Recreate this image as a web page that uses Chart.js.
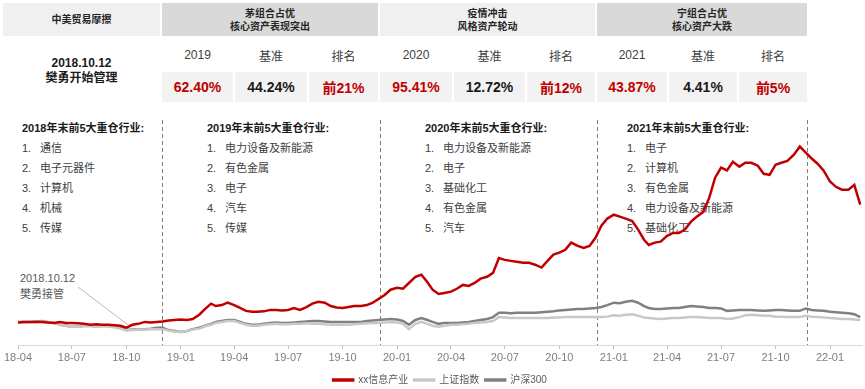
<!DOCTYPE html>
<html>
<head>
<meta charset="utf-8">
<script src="https://cdn.jsdelivr.net/npm/chart.js@4.4.1/dist/chart.umd.min.js"></script>
<style>
  body { margin: 0; width: 865px; height: 389px; background: #fff; position: relative; overflow: hidden;
         font-family: "Liberation Sans", "Noto Sans CJK SC", sans-serif; }
  .cell { position: absolute; display: flex; flex-direction: column; align-items: center; justify-content: center; text-align: center; }
  .txt { position: absolute; white-space: nowrap; }
  #chart { position: absolute; left: 0; top: 110px; z-index: 2; }
</style>
</head>
<body>
<canvas id="chart" width="865" height="285"></canvas>
<script>
// ---- table texts ----
const tradeWarTitle = '中美贸易摩擦';
const managerNote = ['2018.10.12', '樊勇开始管理'];
const periodTitles = [['茅组合占优', '核心资产表现突出'], ['疫情冲击', '风格资产轮动'], ['宁组合占优', '核心资产大跌']];
const periodYears = ['2019', '2020', '2021'];
const fundReturns = ['62.40%', '95.41%', '43.87%'];
const benchReturns = ['44.24%', '12.72%', '4.41%'];
const rankTexts = ['前21%', '前12%', '前5%'];

// ---- holdings lists ----
const listTitles = ['2018年末前5大重仓行业:', '2019年末前5大重仓行业:', '2020年末前5大重仓行业:', '2021年末前5大重仓行业:'];
const listItems = [
  ['通信', '电子元器件', '计算机', '机械', '传媒'],
  ['电力设备及新能源', '有色金属', '电子', '汽车', '传媒'],
  ['电力设备及新能源', '电子', '基础化工', '有色金属', '汽车'],
  ['电子', '计算机', '有色金属', '电力设备及新能源', '基础化工']
];
const takeoverNote = ['2018.10.12', '樊勇接管'];
const takeoverDate = '2018-10-12';
const yearEndMarks = ['2018-11-30', '2019-12-03', '2020-12-03', '2021-11-23'];

// ---- chart data (3 readings per month: day 1, 11, 21; 2018-04 .. 2022-02) ----
const seriesNames = ['xx信息产业', '上证指数', '沪深300'];
const tickLabels = ['18-04', '18-07', '18-10', '19-01', '19-04', '19-07', '19-10', '20-01', '20-04', '20-07', '20-10', '21-01', '21-04', '21-07', '21-10', '22-01'];

const infoIndustry = [
  0.99, 1.00, 1.00, 1.00, 1.00, 0.99, 0.98, 1.00, 0.98, 0.98, 0.97, 0.96, 0.94, 0.95, 0.94, 0.94, 0.93, 0.92, 0.88, 0.94, 0.96, 1.00, 0.99, 1.00, 1.01, 1.03, 1.04,
  1.05, 1.04, 1.06, 1.15, 1.27, 1.38, 1.33, 1.35, 1.40, 1.35, 1.29, 1.23, 1.21, 1.21, 1.22, 1.25, 1.25, 1.24, 1.25, 1.29, 1.25, 1.31, 1.38, 1.42, 1.40, 1.33, 1.30, 1.29, 1.31, 1.33, 1.33, 1.35, 1.40, 1.48, 1.56, 1.67,
  1.71, 1.69, 1.81, 1.94, 1.98, 1.83, 1.67, 1.58, 1.60, 1.63, 1.69, 1.77, 1.75, 1.81, 1.90, 1.94, 2.02, 2.33, 2.29, 2.27, 2.25, 2.23, 2.23, 2.19, 2.13, 2.27, 2.40, 2.44, 2.50, 2.65, 2.58, 2.54, 2.58, 2.75, 3.00, 3.15,
  3.23, 3.19, 3.15, 3.10, 2.92, 2.71, 2.60, 2.65, 2.67, 2.79, 2.85, 2.85, 2.92, 3.08, 3.19, 3.29, 3.58, 4.00, 4.21, 4.15, 4.33, 4.23, 4.31, 4.31, 4.25, 4.08, 4.06, 4.27, 4.31, 4.35, 4.48, 4.65, 4.52, 4.40, 4.29, 4.15,
  3.92, 3.81, 3.75, 3.75, 3.85, 3.44
];
const shIndex = [
  1.00, 1.00, 1.00, 1.00, 1.01, 1.00, 0.98, 0.94, 0.92, 0.90, 0.90, 0.91, 0.91, 0.90, 0.91, 0.90, 0.89, 0.86, 0.82, 0.83, 0.84, 0.84, 0.85, 0.85, 0.85, 0.82, 0.80,
  0.79, 0.81, 0.84, 0.86, 0.91, 0.94, 0.98, 1.00, 1.02, 1.02, 0.98, 0.94, 0.92, 0.92, 0.94, 0.95, 0.96, 0.95, 0.95, 0.96, 0.96, 0.97, 0.96, 0.96, 0.95, 0.94, 0.94, 0.94, 0.94, 0.95, 0.96, 0.97, 0.98, 0.98, 0.99, 1.00,
  0.99, 0.96, 0.85, 0.96, 1.00, 0.96, 0.92, 0.90, 0.92, 0.94, 0.94, 0.95, 0.96, 0.98, 0.99, 1.00, 1.02, 1.10, 1.09, 1.08, 1.08, 1.08, 1.08, 1.08, 1.08, 1.08, 1.09, 1.09, 1.10, 1.10, 1.10, 1.10, 1.10, 1.10, 1.10, 1.11,
  1.14, 1.13, 1.15, 1.16, 1.13, 1.09, 1.08, 1.07, 1.06, 1.07, 1.08, 1.08, 1.09, 1.10, 1.10, 1.09, 1.08, 1.08, 1.08, 1.06, 1.07, 1.10, 1.14, 1.15, 1.14, 1.13, 1.13, 1.11, 1.11, 1.10, 1.10, 1.10, 1.13, 1.11, 1.10, 1.09,
  1.08, 1.07, 1.06, 1.06, 1.05, 1.04
];
const hs300 = [
  1.00, 1.00, 1.00, 1.01, 1.02, 1.00, 0.98, 0.94, 0.92, 0.90, 0.90, 0.92, 0.92, 0.91, 0.92, 0.92, 0.90, 0.88, 0.83, 0.84, 0.85, 0.85, 0.86, 0.88, 0.88, 0.83, 0.81,
  0.79, 0.81, 0.85, 0.88, 0.92, 0.96, 1.00, 1.02, 1.04, 1.04, 1.00, 0.96, 0.94, 0.94, 0.96, 0.98, 0.99, 0.98, 0.98, 0.99, 1.00, 1.01, 1.02, 1.02, 1.01, 1.00, 1.00, 1.00, 1.00, 1.00, 1.00, 1.02, 1.03, 1.04, 1.05, 1.06,
  1.05, 1.02, 0.94, 1.04, 1.08, 1.04, 1.00, 0.96, 0.98, 0.98, 0.98, 0.99, 1.00, 1.02, 1.04, 1.06, 1.10, 1.19, 1.19, 1.18, 1.19, 1.19, 1.19, 1.19, 1.20, 1.21, 1.22, 1.24, 1.25, 1.26, 1.27, 1.27, 1.28, 1.29, 1.31, 1.35,
  1.40, 1.39, 1.42, 1.44, 1.40, 1.33, 1.29, 1.27, 1.27, 1.28, 1.29, 1.29, 1.31, 1.33, 1.32, 1.31, 1.29, 1.29, 1.28, 1.23, 1.24, 1.25, 1.25, 1.25, 1.24, 1.23, 1.24, 1.25, 1.25, 1.24, 1.23, 1.23, 1.28, 1.25, 1.24, 1.23,
  1.21, 1.20, 1.19, 1.18, 1.16, 1.10
];

// reading dates: 1st, 11th, 21st of each month from 2018-04 to 2022-02
const readingDays = [1, 11, 21];
const dates = [];
for (let y = 2018, m = 3; y < 2022 || m < 2; m++) {
  if (m === 12) { m = 0; y++; if (y === 2022 && m >= 2) break; }
  readingDays.forEach(d => dates.push(Date.UTC(y, m, d)));
}

// ---- build the table (HTML) ----
function addCell(x, y, w, h, bg, lines, style) {
  const el = document.createElement('div');
  el.className = 'cell';
  Object.assign(el.style, { left: x + 'px', top: y + 'px', width: w + 'px', height: h + 'px', background: bg }, style || {});
  lines.forEach(t => { const s = document.createElement('div'); s.textContent = t; el.appendChild(s); });
  document.body.appendChild(el);
}
function addText(x, cy, text, style) {
  const el = document.createElement('div');
  el.className = 'txt';
  el.textContent = text;
  Object.assign(el.style, { left: x + 'px', top: (cy - 7) + 'px', height: '14px', lineHeight: '14px' }, style || {});
  document.body.appendChild(el);
}

const headBold = { fontWeight: 'bold', fontSize: '10px', lineHeight: '13px', color: '#262626' };
addCell(3, 3, 157, 33, '#f0f0f0', [tradeWarTitle], headBold);
addCell(3, 40, 157, 62, 'transparent', managerNote, { fontWeight: 'bold', fontSize: '12px', lineHeight: '15px', color: '#1a1a1a' });

const groupX = [[162, 216], [380, 215], [597, 210]];
const groupBg = ['#d9d9d9', '#f0f0f0', '#d9d9d9'];
const subX = [[[162, 71], [235, 72], [309, 69]], [[380, 72], [454, 71], [527, 68]], [[597, 70], [669, 68], [739, 68]]];
periodTitles.forEach((t, i) => {
  addCell(groupX[i][0], 3, groupX[i][1], 33, groupBg[i], t, headBold);
  const labels = [periodYears[i], '基准', '排名'];
  const vals = [fundReturns[i], benchReturns[i], rankTexts[i]];
  const cols = ['#c00000', '#1a1a1a', '#c00000'];
  subX[i].forEach((c, j) => {
    addCell(c[0], 40, c[1], 30, 'transparent', [labels[j]], { fontSize: '12px', color: '#404040' });
    addCell(c[0], 72, c[1], 30, '#f2f2f2', [vals[j]], { fontSize: '14px', fontWeight: 'bold', color: cols[j] });
  });
});

// ---- holdings lists ----
const listX = [22, 207, 425, 627];
listTitles.forEach((title, i) => {
  addText(listX[i], 128, title, { fontSize: '11px', fontWeight: 'bold', color: '#1a1a1a' });
  listItems[i].forEach((item, k) => {
    const cy = 148 + k * 20;
    addText(listX[i], cy, (k + 1) + '.', { fontSize: '11px', color: '#404040' });
    addText(listX[i] + 18, cy, item, { fontSize: '11px', color: '#404040' });
  });
});
addText(20, 278, takeoverNote[0], { fontSize: '11px', color: '#595959' });
addText(20, 294, takeoverNote[1], { fontSize: '11px', color: '#595959' });

// ---- chart ----
Chart.defaults.font.family = '"Liberation Sans", "Noto Sans CJK SC", sans-serif';
const tickValues = tickLabels.map(l => Date.UTC(2000 + +l.slice(0, 2), +l.slice(3) - 1, 1));
const toPoints = vals => vals.map((v, i) => ({ x: dates[i], y: v }));

const guides = {
  id: 'guides',
  beforeDatasetsDraw(chart) {
    const { ctx, chartArea, scales: { x, y } } = chart;
    ctx.save();
    ctx.strokeStyle = '#7f7f7f';
    ctx.lineWidth = 1;
    ctx.setLineDash([4, 3]);
    yearEndMarks.forEach(d => {
      const px = Math.round(x.getPixelForValue(Date.parse(d))) + 0.5;
      ctx.beginPath();
      ctx.moveTo(px, chartArea.top);
      ctx.lineTo(px, chartArea.bottom);
      ctx.stroke();
    });
    // leader line for the takeover note
    ctx.setLineDash([]);
    ctx.strokeStyle = '#a6a6a6';
    ctx.lineWidth = 0.8;
    ctx.beginPath();
    ctx.moveTo(78, 177);
    ctx.lineTo(x.getPixelForValue(Date.parse(takeoverDate)) - 5, y.getPixelForValue(0.94));
    ctx.stroke();
    ctx.restore();
  }
};

const lineStyle = { borderWidth: 2.5, pointRadius: 0, tension: 0, fill: false };
new Chart(document.getElementById('chart'), {
  type: 'line',
  data: {
    datasets: [
      { label: seriesNames[0], data: toPoints(infoIndustry), borderColor: '#c00000', backgroundColor: '#c00000', ...lineStyle },
      { label: seriesNames[1], data: toPoints(shIndex), borderColor: '#c8c8c8', backgroundColor: '#c8c8c8', ...lineStyle },
      { label: seriesNames[2], data: toPoints(hs300), borderColor: '#808080', backgroundColor: '#808080', ...lineStyle }
    ]
  },
  options: {
    responsive: false,
    animation: false,
    layout: { padding: { top: 10, left: 18, right: 3, bottom: 0 } },
    scales: {
      x: {
        type: 'linear',
        min: Date.UTC(2018, 3, 1),
        max: Date.UTC(2022, 1, 24),
        afterBuildTicks: axis => { axis.ticks = tickValues.map(v => ({ value: v })); },
        afterFit: axis => { axis.height = 24; },
        grid: { display: true, drawOnChartArea: false, drawTicks: true, tickLength: 4, color: '#bfbfbf' },
        border: { color: '#d9d9d9' },
        ticks: {
          callback: v => tickLabels[tickValues.indexOf(v)],
          font: { size: 11 }, color: '#7f7f7f', padding: 2, maxRotation: 0, autoSkip: false
        }
      },
      y: { display: false, min: 0.52, max: 5.2 }
    },
    plugins: {
      legend: {
        position: 'bottom',
        labels: { boxWidth: 20, boxHeight: 1, padding: 6, font: { size: 10 }, color: '#595959' }
      },
      tooltip: { enabled: false }
    }
  },
  plugins: [guides]
});
</script>
</body>
</html>
